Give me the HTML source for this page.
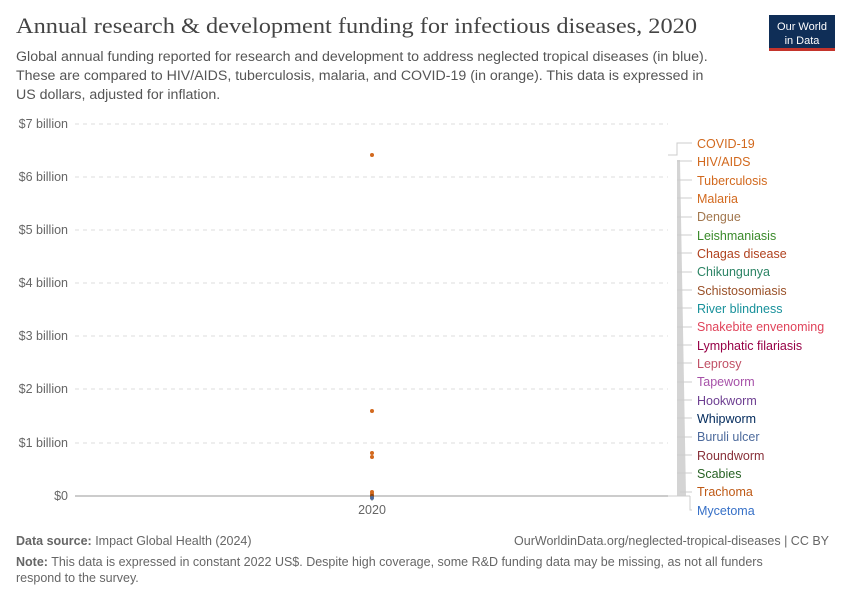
<!DOCTYPE html>
<html><head><meta charset="utf-8"><style>
body{margin:0;background:#fff;width:850px;height:600px;overflow:hidden;font-family:"Liberation Sans",sans-serif;}
</style></head><body>
<svg width="850" height="600" xmlns="http://www.w3.org/2000/svg" font-family="Liberation Sans, sans-serif">
<text x="16" y="33" font-family="Liberation Serif, serif" font-size="22.5" fill="#444" textLength="681" lengthAdjust="spacingAndGlyphs">Annual research &amp; development funding for infectious diseases, 2020</text>
<rect x="769" y="15" width="66" height="36" fill="#0f2e57"/>
<text x="802" y="30" font-size="11" fill="#fff" text-anchor="middle">Our World</text>
<text x="802" y="44" font-size="11" fill="#fff" text-anchor="middle">in Data</text>
<rect x="769" y="48" width="66" height="3" fill="#c4342b"/>
<g font-size="14.2" fill="#555">
<text x="16" y="61">Global annual funding reported for research and development to address neglected tropical diseases (in blue).</text>
<text x="16" y="80">These are compared to HIV/AIDS, tuberculosis, malaria, and COVID-19 (in orange). This data is expressed in</text>
<text x="16" y="99">US dollars, adjusted for inflation.</text>
</g>
<g stroke="#ddd" stroke-dasharray="4,4">
<line x1="75" x2="668" y1="124" y2="124"/><line x1="75" x2="668" y1="177" y2="177"/>
<line x1="75" x2="668" y1="230" y2="230"/><line x1="75" x2="668" y1="283" y2="283"/>
<line x1="75" x2="668" y1="336" y2="336"/><line x1="75" x2="668" y1="389" y2="389"/>
<line x1="75" x2="668" y1="443" y2="443"/>
</g>
<line x1="75" x2="668" y1="496" y2="496" stroke="#999"/>
<g font-size="12.5" fill="#666" text-anchor="end">
<text x="68" y="128">$7 billion</text><text x="68" y="181">$6 billion</text>
<text x="68" y="234">$5 billion</text><text x="68" y="287">$4 billion</text>
<text x="68" y="340">$3 billion</text><text x="68" y="393">$2 billion</text>
<text x="68" y="447">$1 billion</text><text x="68" y="500">$0</text>
</g>
<text x="372" y="514" font-size="12.5" fill="#666" text-anchor="middle">2020</text>
<line x1="372" x2="372" y1="496" y2="501" stroke="#999"/>
<g fill="#d2691e">
<circle cx="372" cy="155" r="2"/><circle cx="372" cy="411" r="2"/>
<circle cx="372" cy="453" r="2"/><circle cx="372" cy="457" r="2"/>
<circle cx="372" cy="492" r="2"/><circle cx="372" cy="494" r="2"/>
</g>
<circle cx="372" cy="496" r="2" fill="#8b4513"/><circle cx="372" cy="498" r="2" fill="#4c6a9c"/>
<polygon points="677,496 677,160 680,160 686,496" fill="#d4d4d4"/>
<g stroke="#ccc" fill="none">
<polyline points="668,155 677,155 677,143 692,143"/>
<polyline points="677,161 692,161"/>
<line x1="668" y1="496" x2="690" y2="496"/>
<polyline points="690,496 690,510 692,510"/>
<line x1="677" y1="180" x2="692" y2="180"/><line x1="677" y1="198" x2="692" y2="198"/>
<line x1="677" y1="217" x2="692" y2="217"/><line x1="677" y1="235" x2="692" y2="235"/>
<line x1="677" y1="253" x2="692" y2="253"/><line x1="677" y1="272" x2="692" y2="272"/>
<line x1="677" y1="290" x2="692" y2="290"/><line x1="677" y1="308" x2="692" y2="308"/>
<line x1="677" y1="327" x2="692" y2="327"/><line x1="677" y1="345" x2="692" y2="345"/>
<line x1="677" y1="363" x2="692" y2="363"/><line x1="677" y1="382" x2="692" y2="382"/>
<line x1="677" y1="400" x2="692" y2="400"/><line x1="677" y1="418" x2="692" y2="418"/>
<line x1="677" y1="437" x2="692" y2="437"/><line x1="677" y1="455" x2="692" y2="455"/>
<line x1="677" y1="473" x2="692" y2="473"/><line x1="680" y1="492" x2="692" y2="492"/>
</g>
<g font-size="12.5">
<text x="697" y="148" fill="#d2691e">COVID-19</text>
<text x="697" y="166" fill="#d2691e">HIV/AIDS</text>
<text x="697" y="185" fill="#d2691e">Tuberculosis</text>
<text x="697" y="203" fill="#d2691e">Malaria</text>
<text x="697" y="221" fill="#a2774e">Dengue</text>
<text x="697" y="240" fill="#3a8a2a">Leishmaniasis</text>
<text x="697" y="258" fill="#b0411e">Chagas disease</text>
<text x="697" y="276" fill="#2c8465">Chikungunya</text>
<text x="697" y="295" fill="#9a5129">Schistosomiasis</text>
<text x="697" y="313" fill="#18919b">River blindness</text>
<text x="697" y="331" fill="#e0435a">Snakebite envenoming</text>
<text x="697" y="350" fill="#970046">Lymphatic filariasis</text>
<text x="697" y="368" fill="#c15065">Leprosy</text>
<text x="697" y="386" fill="#a651a8">Tapeworm</text>
<text x="697" y="405" fill="#6d3e91">Hookworm</text>
<text x="697" y="423" fill="#00295b">Whipworm</text>
<text x="697" y="441" fill="#4c6a9c">Buruli ulcer</text>
<text x="697" y="460" fill="#883039">Roundworm</text>
<text x="697" y="478" fill="#286225">Scabies</text>
<text x="697" y="496" fill="#be5915">Trachoma</text>
<text x="697" y="515" fill="#3670c7">Mycetoma</text>
</g>
<g font-size="12.5" fill="#666">
<text x="16" y="545"><tspan font-weight="bold">Data source:</tspan> Impact Global Health (2024)</text>
<text x="829" y="545" text-anchor="end">OurWorldinData.org/neglected-tropical-diseases | CC BY</text>
<text x="16" y="566"><tspan font-weight="bold">Note:</tspan> This data is expressed in constant 2022 US$. Despite high coverage, some R&amp;D funding data may be missing, as not all funders</text>
<text x="16" y="582">respond to the survey.</text>
</g>
</svg>
</body></html>
